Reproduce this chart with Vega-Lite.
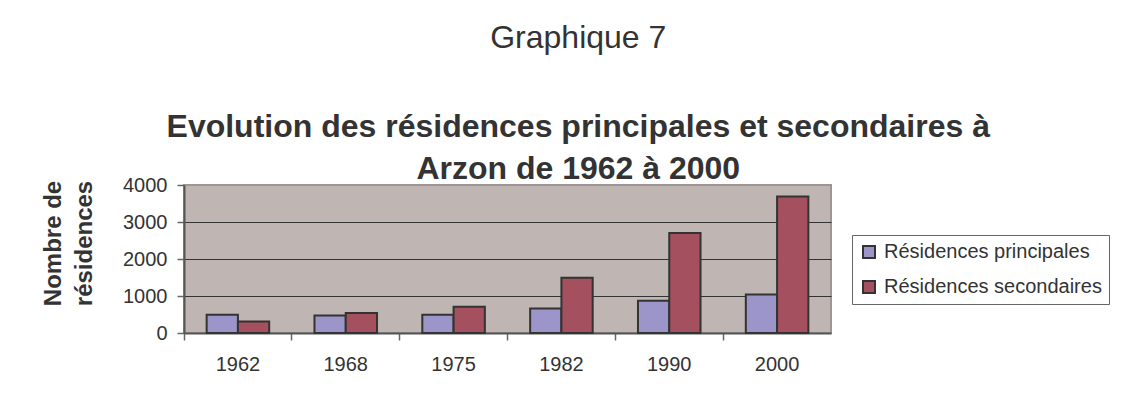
{
  "$schema": "https://vega.github.io/schema/vega-lite/v6.json",
  "autosize": {"type": "none"},
  "width": 647,
  "height": 148,
  "padding": {"left": 184, "top": 185, "right": 300, "bottom": 70},
  "background": "white",
  "title": {
    "text": "Graphique 7",
    "subtitle": ["Evolution des résidences principales et secondaires à", "Arzon de 1962 à 2000"],
    "anchor": "middle",
    "frame": "bounds",
    "dx": 3,
    "font": "Liberation Sans",
    "fontSize": 32,
    "fontWeight": "normal",
    "color": "#333333",
    "subtitleFont": "Liberation Sans",
    "subtitleFontSize": 32,
    "subtitleFontWeight": "bold",
    "subtitleColor": "#333333",
    "subtitleLineHeight": 42,
    "subtitlePadding": 57,
    "offset": -11
  },
  "data": {
    "values": [
      {"annee": "1962", "type": "Résidences principales", "nombre": 490},
      {"annee": "1962", "type": "Résidences secondaires", "nombre": 310},
      {"annee": "1968", "type": "Résidences principales", "nombre": 470},
      {"annee": "1968", "type": "Résidences secondaires", "nombre": 540},
      {"annee": "1975", "type": "Résidences principales", "nombre": 490},
      {"annee": "1975", "type": "Résidences secondaires", "nombre": 710},
      {"annee": "1982", "type": "Résidences principales", "nombre": 660},
      {"annee": "1982", "type": "Résidences secondaires", "nombre": 1490},
      {"annee": "1990", "type": "Résidences principales", "nombre": 870},
      {"annee": "1990", "type": "Résidences secondaires", "nombre": 2700},
      {"annee": "2000", "type": "Résidences principales", "nombre": 1040},
      {"annee": "2000", "type": "Résidences secondaires", "nombre": 3690}
    ]
  },
  "mark": {"type": "bar", "stroke": "#333333", "strokeWidth": 2},
  "encoding": {
    "x": {
      "field": "annee",
      "type": "nominal",
      "sort": null,
      "scale": {"paddingInner": 0.42, "paddingOuter": 0.21},
      "axis": {
        "title": null,
        "labelAngle": 0,
        "labelFont": "Liberation Sans",
        "labelFontSize": 20,
        "labelColor": "#333333",
        "labelPadding": 14,
        "bandPosition": -0.3616,
        "tickSize": 7,
        "tickColor": "#666666",
        "tickWidth": 1.5,
        "domainColor": "#555555",
        "domainWidth": 2,
        "grid": false
      }
    },
    "xOffset": {"field": "type", "type": "nominal", "scale": {"paddingInner": 0, "paddingOuter": 0}},
    "y": {
      "field": "nombre",
      "type": "quantitative",
      "scale": {"domain": [0, 4000], "nice": false},
      "axis": {
        "values": [0, 1000, 2000, 3000, 4000],
        "format": "d",
        "title": ["Nombre de", "résidences"],
        "titleFont": "Liberation Sans",
        "titleFontSize": 24,
        "titleFontWeight": "bold",
        "titleColor": "#333333",
        "titleLineHeight": 31,
        "titleAngle": -90,
        "titleAlign": "center",
        "titleBaseline": "middle",
        "titleX": -131,
        "titleY": 58,
        "labelFont": "Liberation Sans",
        "labelFontSize": 20,
        "labelColor": "#333333",
        "labelPadding": 10,
        "tickSize": 7,
        "tickColor": "#666666",
        "tickWidth": 1.5,
        "domainColor": "#555555",
        "domainWidth": 2,
        "grid": true,
        "gridColor": {"condition": {"test": "datum.value >= 4000 || datum.value <= 0", "value": "transparent"}, "value": "#333333"},
        "gridWidth": 1.2
      }
    },
    "color": {
      "field": "type",
      "type": "nominal",
      "scale": {"domain": ["Résidences principales", "Résidences secondaires"], "range": ["#9c95c9", "#a5505f"]},
      "legend": {
        "title": null,
        "orient": "none",
        "legendX": 668,
        "legendY": 50,
        "strokeColor": "#666666",
        "fillColor": "white",
        "padding": 7,
        "symbolType": "square",
        "symbolSize": 144,
        "symbolStrokeColor": "#333333",
        "symbolStrokeWidth": 2,
        "symbolOpacity": 1,
        "labelFont": "Liberation Sans",
        "labelFontSize": 20,
        "labelColor": "#333333",
        "labelOffset": 5,
        "labelLimit": 400,
        "rowPadding": 15
      }
    }
  },
  "config": {
    "view": {"fill": "#bfb6b4", "stroke": "#9e9494", "strokeWidth": 2}
  }
}
